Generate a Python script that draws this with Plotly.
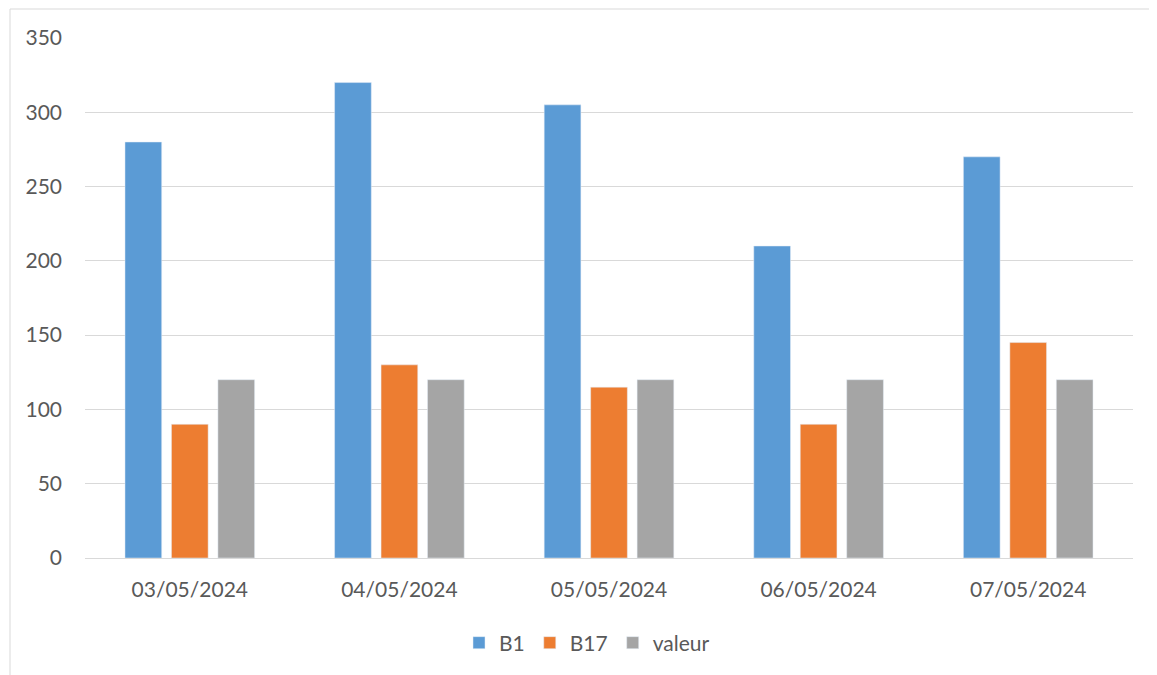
import plotly.graph_objects as go

# ---- data ----
dates = ["03/05/2024", "04/05/2024", "05/05/2024", "06/05/2024", "07/05/2024"]
b1 = [280, 320, 305, 210, 270]
b17 = [90, 130, 115, 90, 145]
valeur = [120, 120, 120, 120, 120]

W, H = 1157, 675
OFF = 8  # page body margin
L, R, T, B = 85 - OFF, 24 + OFF, 38 - OFF, 117 + OFF
pw, ph = W - L - R, H - T - B

fig = go.Figure()
fig.add_trace(go.Bar(x=dates, y=b1, name="B1", marker_color="#5B9BD5"))
fig.add_trace(go.Bar(x=dates, y=b17, name="B17", marker_color="#ED7D31"))
fig.add_trace(go.Bar(x=dates, y=valeur, name="valeur", marker_color="#A5A5A5"))

txt = dict(family="Lato, Liberation Sans, sans-serif", size=21, color="#595959")

fig.update_layout(
    width=W, height=H,
    margin=dict(l=L, r=R, t=T, b=B),
    paper_bgcolor="white", plot_bgcolor="white",
    barmode="group", bargap=0.335, bargroupgap=0.21,
    font=txt,
    showlegend=True,
    legend=dict(orientation="h", x=0.5 - 22 / pw, xanchor="center",
                y=-(643 - 558) / ph, yanchor="middle",
                font=txt, itemwidth=30, traceorder="normal"),
)
fig.update_xaxes(showgrid=False, showline=True, linecolor="#d9d9d9", linewidth=1,
                 ticks="", tickfont=txt, ticklabelstandoff=13)
fig.update_yaxes(range=[0, 350], dtick=50, showgrid=True, gridcolor="#d9d9d9",
                 gridwidth=1, zeroline=False, showline=False, ticks="",
                 tickfont=txt, ticklabelstandoff=22)

# light chart border (cropped at right and bottom like the source)
fig.add_shape(type="rect", xref="paper", yref="paper",
              x0=(2 - L) / pw, x1=(W + 5 - L) / pw,
              y0=-(B + 5) / ph, y1=1 + (T - 1) / ph,
              line=dict(color="#d9d9d9", width=1), fillcolor="rgba(0,0,0,0)",
              layer="below")

fig.write_html("out.html")
